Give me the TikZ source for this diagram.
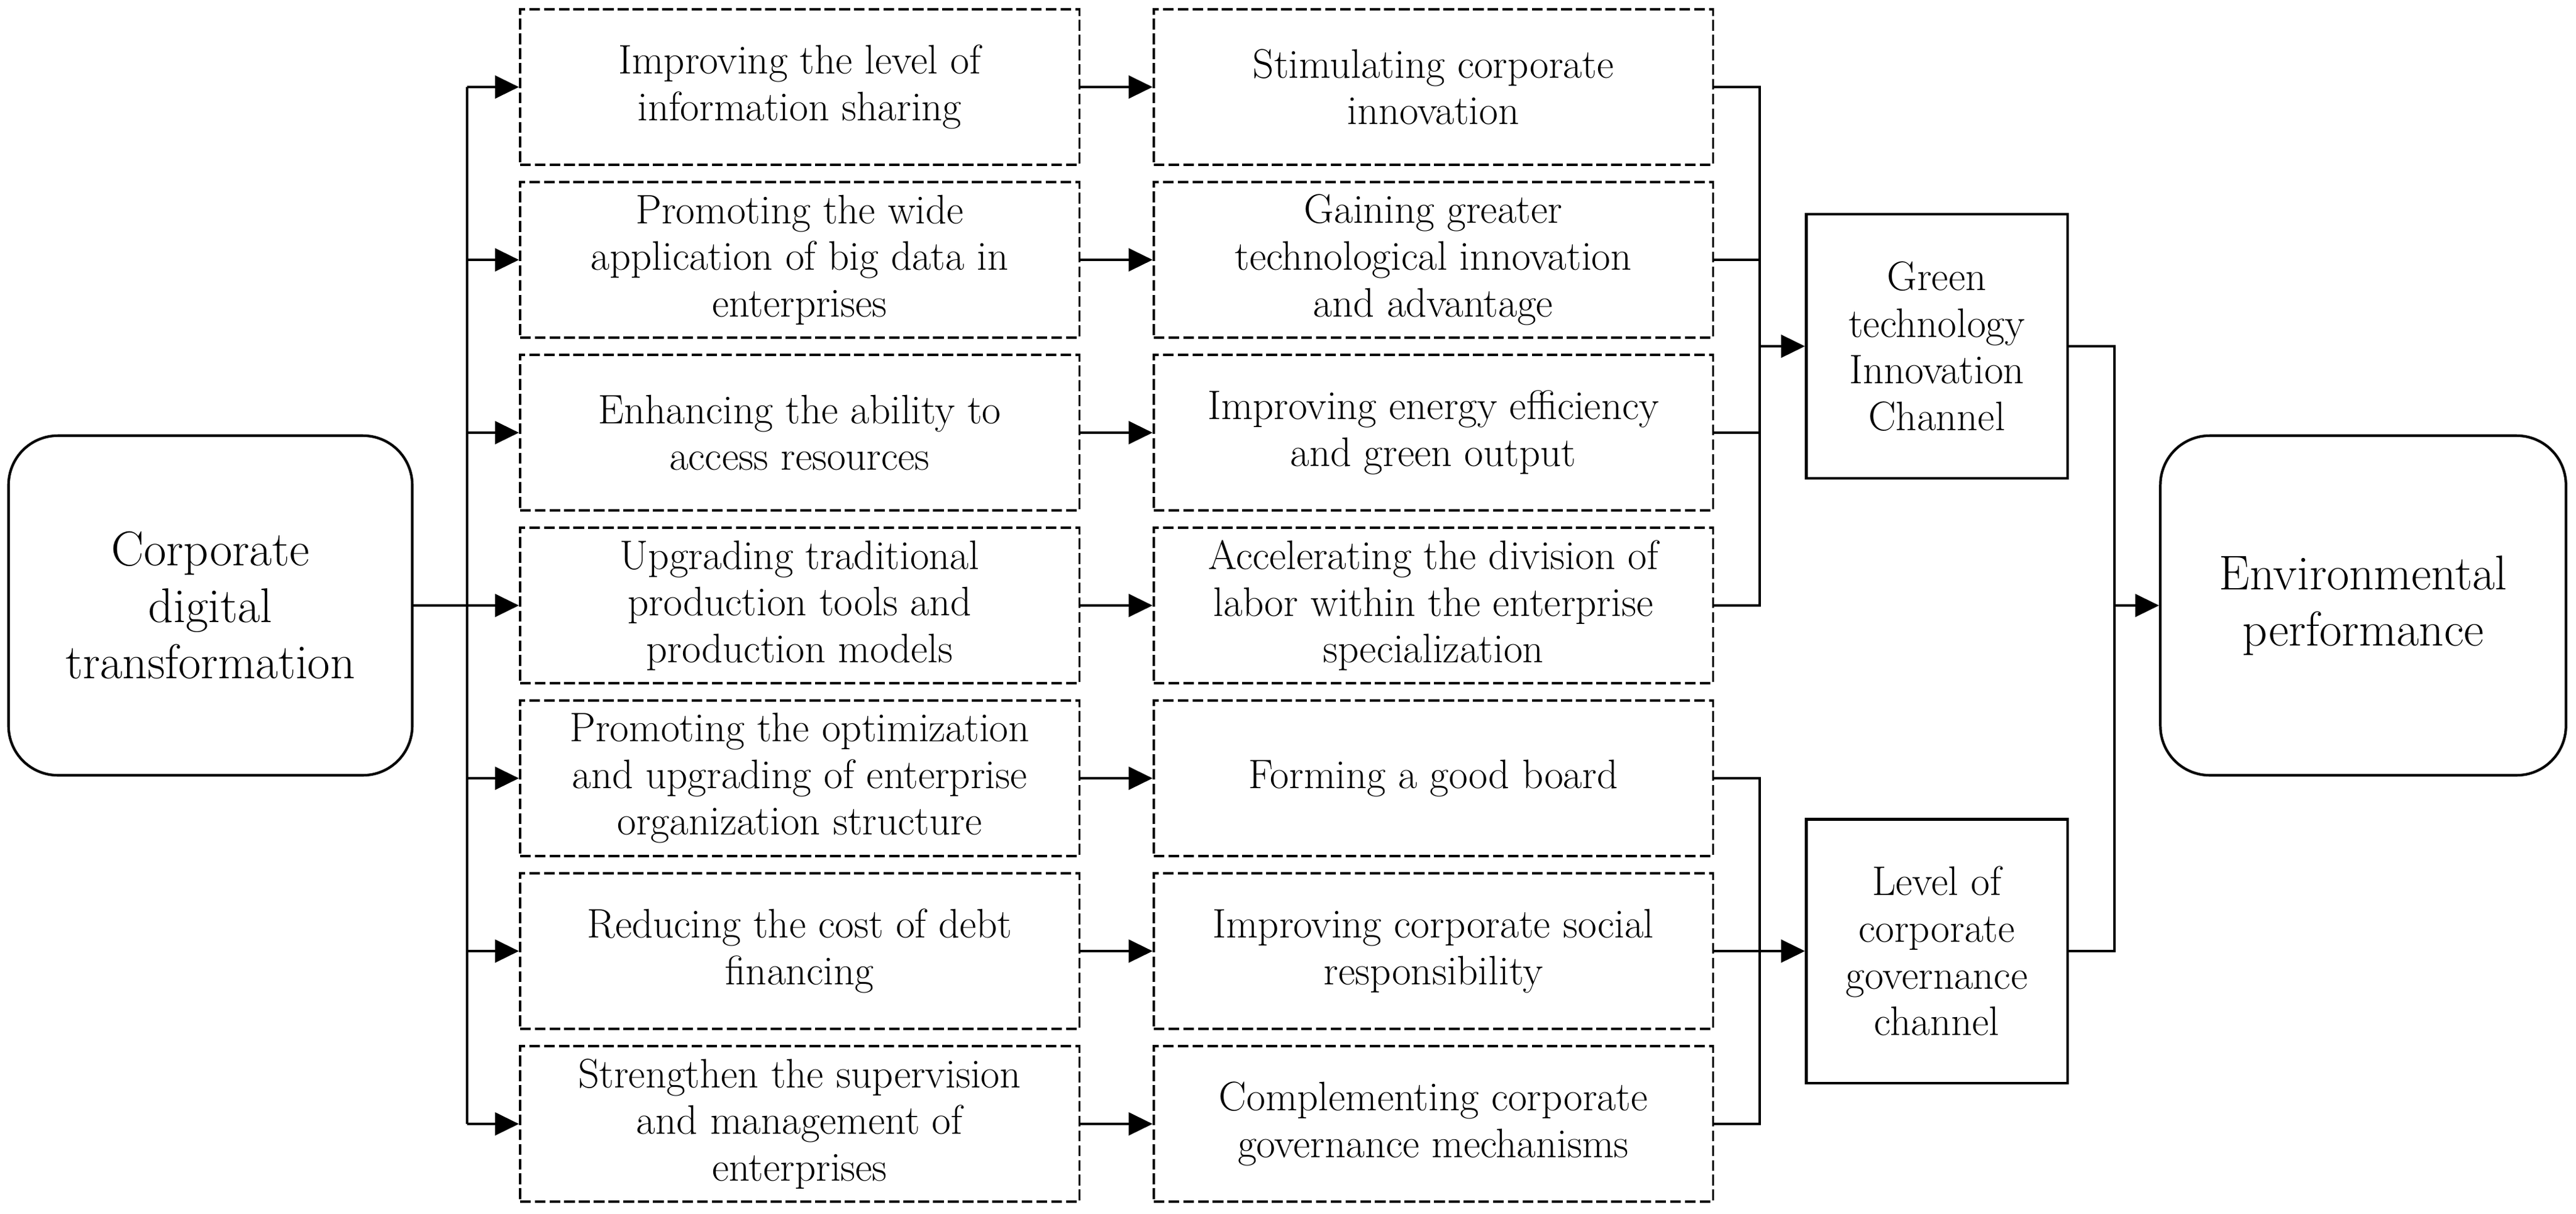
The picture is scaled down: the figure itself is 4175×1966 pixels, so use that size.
\documentclass[tikz,border=0pt]{standalone}
\usetikzlibrary{arrows.meta}
\begin{document}
\begin{tikzpicture}[x=0.01cm,y=-0.01cm]
    \tikzstyle{dbox}=[draw=black, dash pattern=on 5pt off 1.8pt, line width=1pt, minimum width=9.06cm, minimum height=2.52cm, inner sep=2pt, align=center, font=\fontsize{19}{21.5}\selectfont];
    \tikzstyle{cbox}=[draw=black, line width=1.2pt, minimum width=4.23cm, minimum height=4.27cm, inner sep=2pt, align=center, font=\fontsize{19}{21.5}\selectfont];
    \tikzstyle{rbox}=[draw=black, line width=1.2pt, rounded corners=0.8cm, minimum height=5.5cm, inner sep=2pt, align=center, font=\fontsize{22.5}{26}\selectfont];
    \tikzstyle{ln}=[draw=black, line width=1.1pt];
    \tikzstyle{arr}=[ln, -{Triangle[length=11pt,width=10.5pt]}];

    \useasboundingbox (0,0) rectangle (4175,1966);

	\node (cdt) at (341, 981) [rbox, minimum width=6.54cm] {Corporate\\digital\\transformation};

	\node (a1) at (1296, 141) [dbox] {Improving the level of\\information sharing};
	\node (a2) at (1296, 421) [dbox] {Promoting the wide\\application of big data in\\enterprises};
	\node (a3) at (1296, 701) [dbox] {Enhancing the ability to\\access resources};
	\node (a4) at (1296, 981) [dbox] {Upgrading traditional\\production tools and\\production models};
	\node (a5) at (1296, 1261) [dbox] {Promoting the optimization\\and upgrading of enterprise\\organization structure};
	\node (a6) at (1296, 1541) [dbox] {Reducing the cost of debt\\financing};
	\node (a7) at (1296, 1821) [dbox] {Strengthen the supervision\\and management of\\enterprises};

	\node (b1) at (2323, 141) [dbox] {Stimulating corporate\\innovation};
	\node (b2) at (2323, 421) [dbox] {Gaining greater\\technological innovation\\and advantage};
	\node (b3) at (2323, 701) [dbox] {Improving energy efficiency\\and green output};
	\node (b4) at (2323, 981) [dbox] {Accelerating the division of\\labor within the enterprise\\specialization};
	\node (b5) at (2323, 1261) [dbox] {Forming a good board};
	\node (b6) at (2323, 1541) [dbox] {Improving corporate social\\responsibility};
	\node (b7) at (2323, 1821) [dbox] {Complementing corporate\\governance mechanisms};

	\node (gtc) at (3139, 561) [cbox] {Green\\technology\\Innovation\\Channel};
	\node (lcg) at (3139, 1541) [cbox] {Level of\\corporate\\governance\\channel};

	\node (ep) at (3830, 981) [rbox, minimum width=6.57cm] {Environmental\\performance};

	% split after the left box
	\coordinate (sl) at (757, 981);
	\draw[ln] (cdt.east) -- (sl);
	\draw[ln] (sl |- a1.west) -- (sl |- a7.west);
	\draw[arr] (sl |- a1.west) -- (a1.west);
	\draw[arr] (sl |- a2.west) -- (a2.west);
	\draw[arr] (sl |- a3.west) -- (a3.west);
	\draw[arr] (sl |- a4.west) -- (a4.west);
	\draw[arr] (sl |- a5.west) -- (a5.west);
	\draw[arr] (sl |- a6.west) -- (a6.west);
	\draw[arr] (sl |- a7.west) -- (a7.west);

	\draw[arr] (a1.east) -- (b1.west);
	\draw[arr] (a2.east) -- (b2.west);
	\draw[arr] (a3.east) -- (b3.west);
	\draw[arr] (a4.east) -- (b4.west);
	\draw[arr] (a5.east) -- (b5.west);
	\draw[arr] (a6.east) -- (b6.west);
	\draw[arr] (a7.east) -- (b7.west);

	% green technology channel
	\coordinate (jg) at (2852, 561);
	\draw[ln] (b1.east) -- (jg |- b1.east) -- (jg |- b4.east) -- (b4.east);
	\draw[ln] (b2.east) -- (jg |- b2.east);
	\draw[ln] (b3.east) -- (jg |- b3.east);
	\draw[arr] (jg |- gtc.west) -- (gtc.west);

	% governance channel
	\draw[ln] (b5.east) -- (jg |- b5.east) -- (jg |- b7.east) -- (b7.east);
	\draw[arr] (b6.east) -- (lcg.west);

	% to environmental performance
	\coordinate (jo) at (3427, 981);
	\draw[ln] (gtc.east) -| (jo);
	\draw[ln] (lcg.east) -| (jo);
	\draw[arr] (jo) -- (ep.west);
\end{tikzpicture}
\end{document}
